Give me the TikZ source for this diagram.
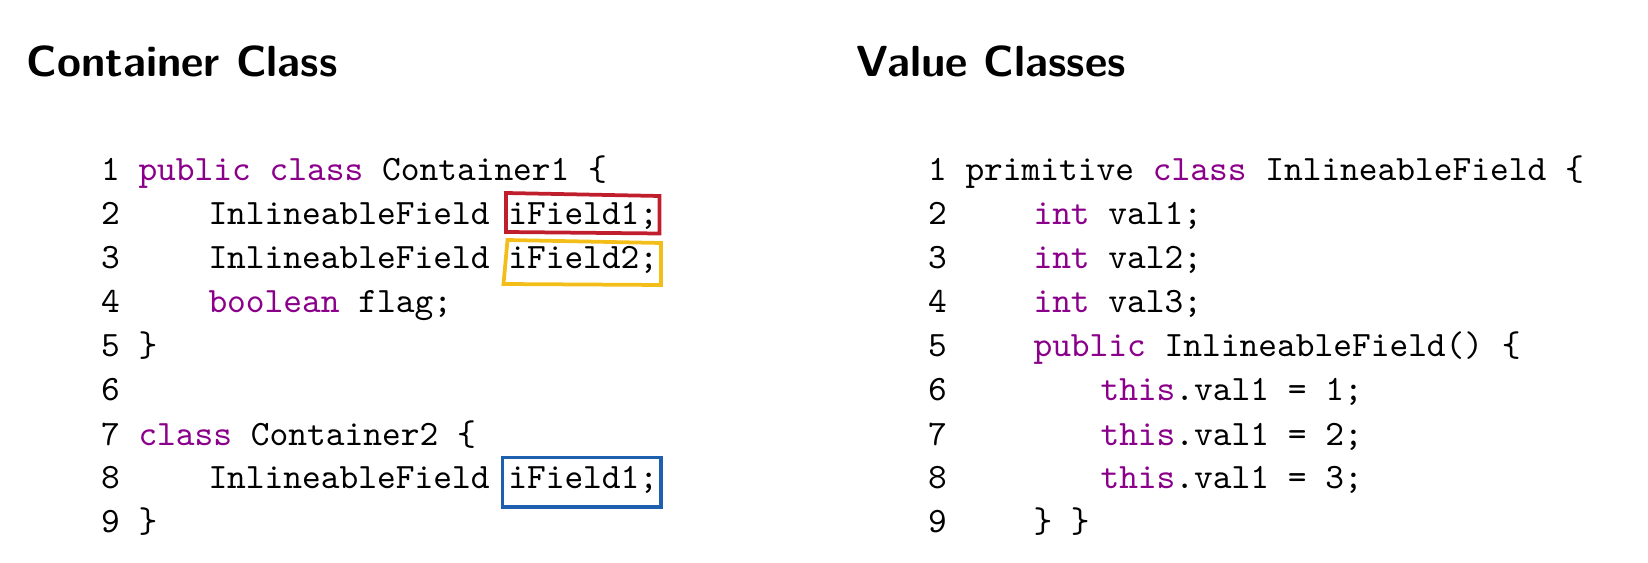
\documentclass[tikz,border=0pt]{standalone}
\usepackage{xcolor}
\definecolor{kwpurple}{RGB}{139,0,139}
\definecolor{boxred}{RGB}{192,30,45}
\definecolor{boxyellow}{RGB}{243,190,25}
\definecolor{boxblue}{RGB}{30,95,175}
\newcommand{\kw}[1]{\textcolor{kwpurple}{#1}}
\begin{document}
\begin{tikzpicture}[x=0.2802pt,y=-0.2802pt,
  codetext/.style={anchor=base west,inner sep=0pt,outer sep=0pt,font=\ttfamily\fontsize{10pt}{12pt}\selectfont},
  titletext/.style={anchor=base west,inner sep=0pt,font=\sffamily\bfseries\fontsize{12.2pt}{14pt}\selectfont},
  hlbox/.style={line width=1.05pt,line join=miter}]
\useasboundingbox (0,0) rectangle (1648,563);
\def\cw{18.74}
% titles
\node[titletext] (t1) at (26,77) {Container Class};
\node[titletext] (t2) at (856,77) {Value Classes};
% left code
\def\lx{101}
\def\lA{138.5}   % level 0
\def\lB{208.5}   % level 1
\foreach \i in {1,...,9}{
  \node[codetext] (ln\i) at (\lx,{181+44*(\i-1)}) {\i};
}
\node[codetext] (l1) at (\lA,181) {\kw{public} \kw{class} Container1 \{};
\node[codetext] (l2) at (\lB,225) {InlineableField iField1;};
\node[codetext] (l3) at (\lB,269) {InlineableField iField2;};
\node[codetext] (l4) at (\lB,313) {\kw{boolean} flag;};
\node[codetext] (l5) at (\lA,357) {\}};
\node[codetext] (l7) at (\lA,445) {\kw{class} Container2 \{};
\node[codetext] (l8) at (\lB,489) {InlineableField iField1;};
\node[codetext] (l9) at (\lA,533) {\}};
% right code
\def\rx{928}
\def\rA{965.5}   % level 0
\def\rB{1033.5}  % level 1
\def\rC{1100.5}  % level 2
\foreach \i in {1,...,9}{
  \node[codetext] (rn\i) at (\rx,{181+44*(\i-1)}) {\i};
}
\node[codetext] (r1) at (\rA,181) {primitive \kw{class} InlineableField \{};
\node[codetext] (r2) at (\rB,225) {\kw{int} val1;};
\node[codetext] (r3) at (\rB,269) {\kw{int} val2;};
\node[codetext] (r4) at (\rB,313) {\kw{int} val3;};
\node[codetext] (r5) at (\rB,357) {\kw{public} InlineableField() \{};
\node[codetext] (r6) at (\rC,401) {\kw{this}.val1 = 1;};
\node[codetext] (r7) at (\rC,445) {\kw{this}.val1 = 2;};
\node[codetext] (r8) at (\rC,489) {\kw{this}.val1 = 3;};
\node[codetext] (r9) at (\rB,533) {\} \}};
% highlight boxes
\draw[hlbox,boxred] (506,193) -- (659.5,196) -- (659.5,233.5) -- (506,232) -- cycle;
\draw[hlbox,boxyellow] (507.5,240) -- (661,243) -- (661,285) -- (503.5,284) -- cycle;
\draw[hlbox,boxblue] (502.5,457.5) -- (661,457.5) -- (661,507) -- (502.5,507) -- cycle;
\end{tikzpicture}
\end{document}
